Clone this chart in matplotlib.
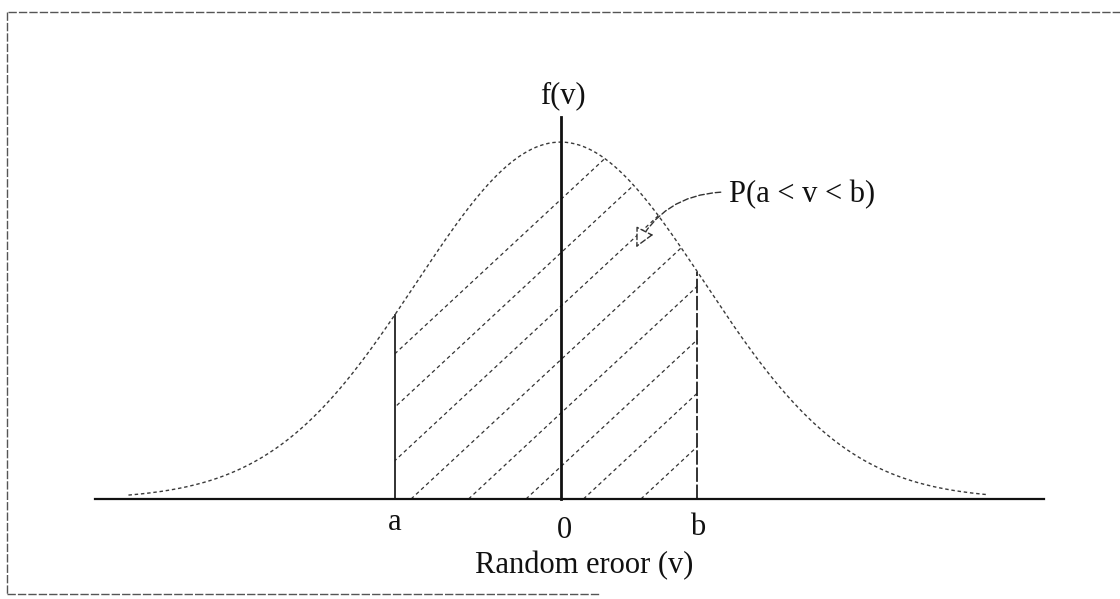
import numpy as np
import matplotlib.pyplot as plt
from matplotlib.patches import Polygon
from matplotlib.lines import Line2D

# normal curve of random error v, a and b bound the shaded probability
mu = 0.0
sigma = 1.0
a = -1.15
b = 0.95
v_min, v_max = -3.0, 2.97
axis_left, axis_right = -3.23, 3.36
axis_top = 1.07
tick_labels = ['a', '0', 'b']
tick_pos = [a, 0.03, b]
tick_y = [-0.087, -0.109, -0.101]

plt.rcParams['font.family'] = ['Liberation Serif', 'DejaVu Serif']

fig = plt.figure(figsize=(11.2, 5.99), dpi=100)
ax = fig.add_axes([0, 0, 1, 1])
ax.set_xlim(-3.892, 3.885)
ax.set_ylim(-0.280, 1.398)
ax.axis('off')

def f(v):
    return np.exp(-(v - mu)**2 / (2 * sigma**2))

v = np.linspace(v_min, v_max, 400)
ax.plot(v, f(v), color='#3a3a3a', lw=1.0, ls=(0, (2.5, 2)))

# shaded region between a and b (hatch drawn by hand, clipped)
vs = np.linspace(a, b, 200)
verts = [(a, 0)] + list(zip(vs, f(vs))) + [(b, 0)]
region = Polygon(verts, closed=True, fill=False, edgecolor='none')
ax.add_patch(region)
slope = (144 / 357.) * 0.93
for x0 in np.arange(-1.038 - 0.399 * 3, 1.5, 0.399):
    xs = np.array([x0, x0 + 3])
    ln, = ax.plot(xs, (xs - x0) * slope, color='#333333', lw=0.9,
                  ls=(0, (3, 2.5)))
    ln.set_clip_path(region)

ax.plot([a, a], [0, f(a)], color='#222222', lw=1.3)
ax.plot([b, b], [0, f(b)], color='#222222', lw=1.3, ls=(0, (8, 1.5)))

ax.plot([axis_left, axis_right], [0, 0], color='#111111', lw=1.6)
ax.plot([0, 0], [0, axis_top], color='#111111', lw=2.0)

for lab, x, y in zip(tick_labels, tick_pos, tick_y):
    ax.text(x, y, lab, ha='center', va='baseline', fontsize=22, color='#111111')
ax.text(0.163, -0.207, 'Random eroor (v)', ha='center', va='baseline',
        fontsize=22, color='#111111')
ax.text(0.02, 1.13, 'f(v)', ha='center', va='center', fontsize=22,
        color='#111111')
ax.text(1.17, 0.832, 'P(a < v < b)', ha='left', va='baseline', fontsize=22,
        color='#111111')

ax.annotate('', xy=(0.517, 0.698), xytext=(1.132, 0.860),
            arrowprops=dict(arrowstyle='-|>', connectionstyle='arc3,rad=0.3',
                            color='#333333', lw=1.0, ls=(0, (4, 2)),
                            fc='white', mutation_scale=30))

# frame from the scanned page
W, H = 1120., 599.
for (x1, y1, x2, y2) in [(8, 12, 1120, 12), (7, 12, 7, 594), (7, 594, 600, 594)]:
    fig.add_artist(Line2D([x1 / W, x2 / W], [1 - y1 / H, 1 - y2 / H],
                          color='#555555', lw=1.0, ls=(0, (6, 1.5))))

plt.savefig('out.png', dpi=100)
